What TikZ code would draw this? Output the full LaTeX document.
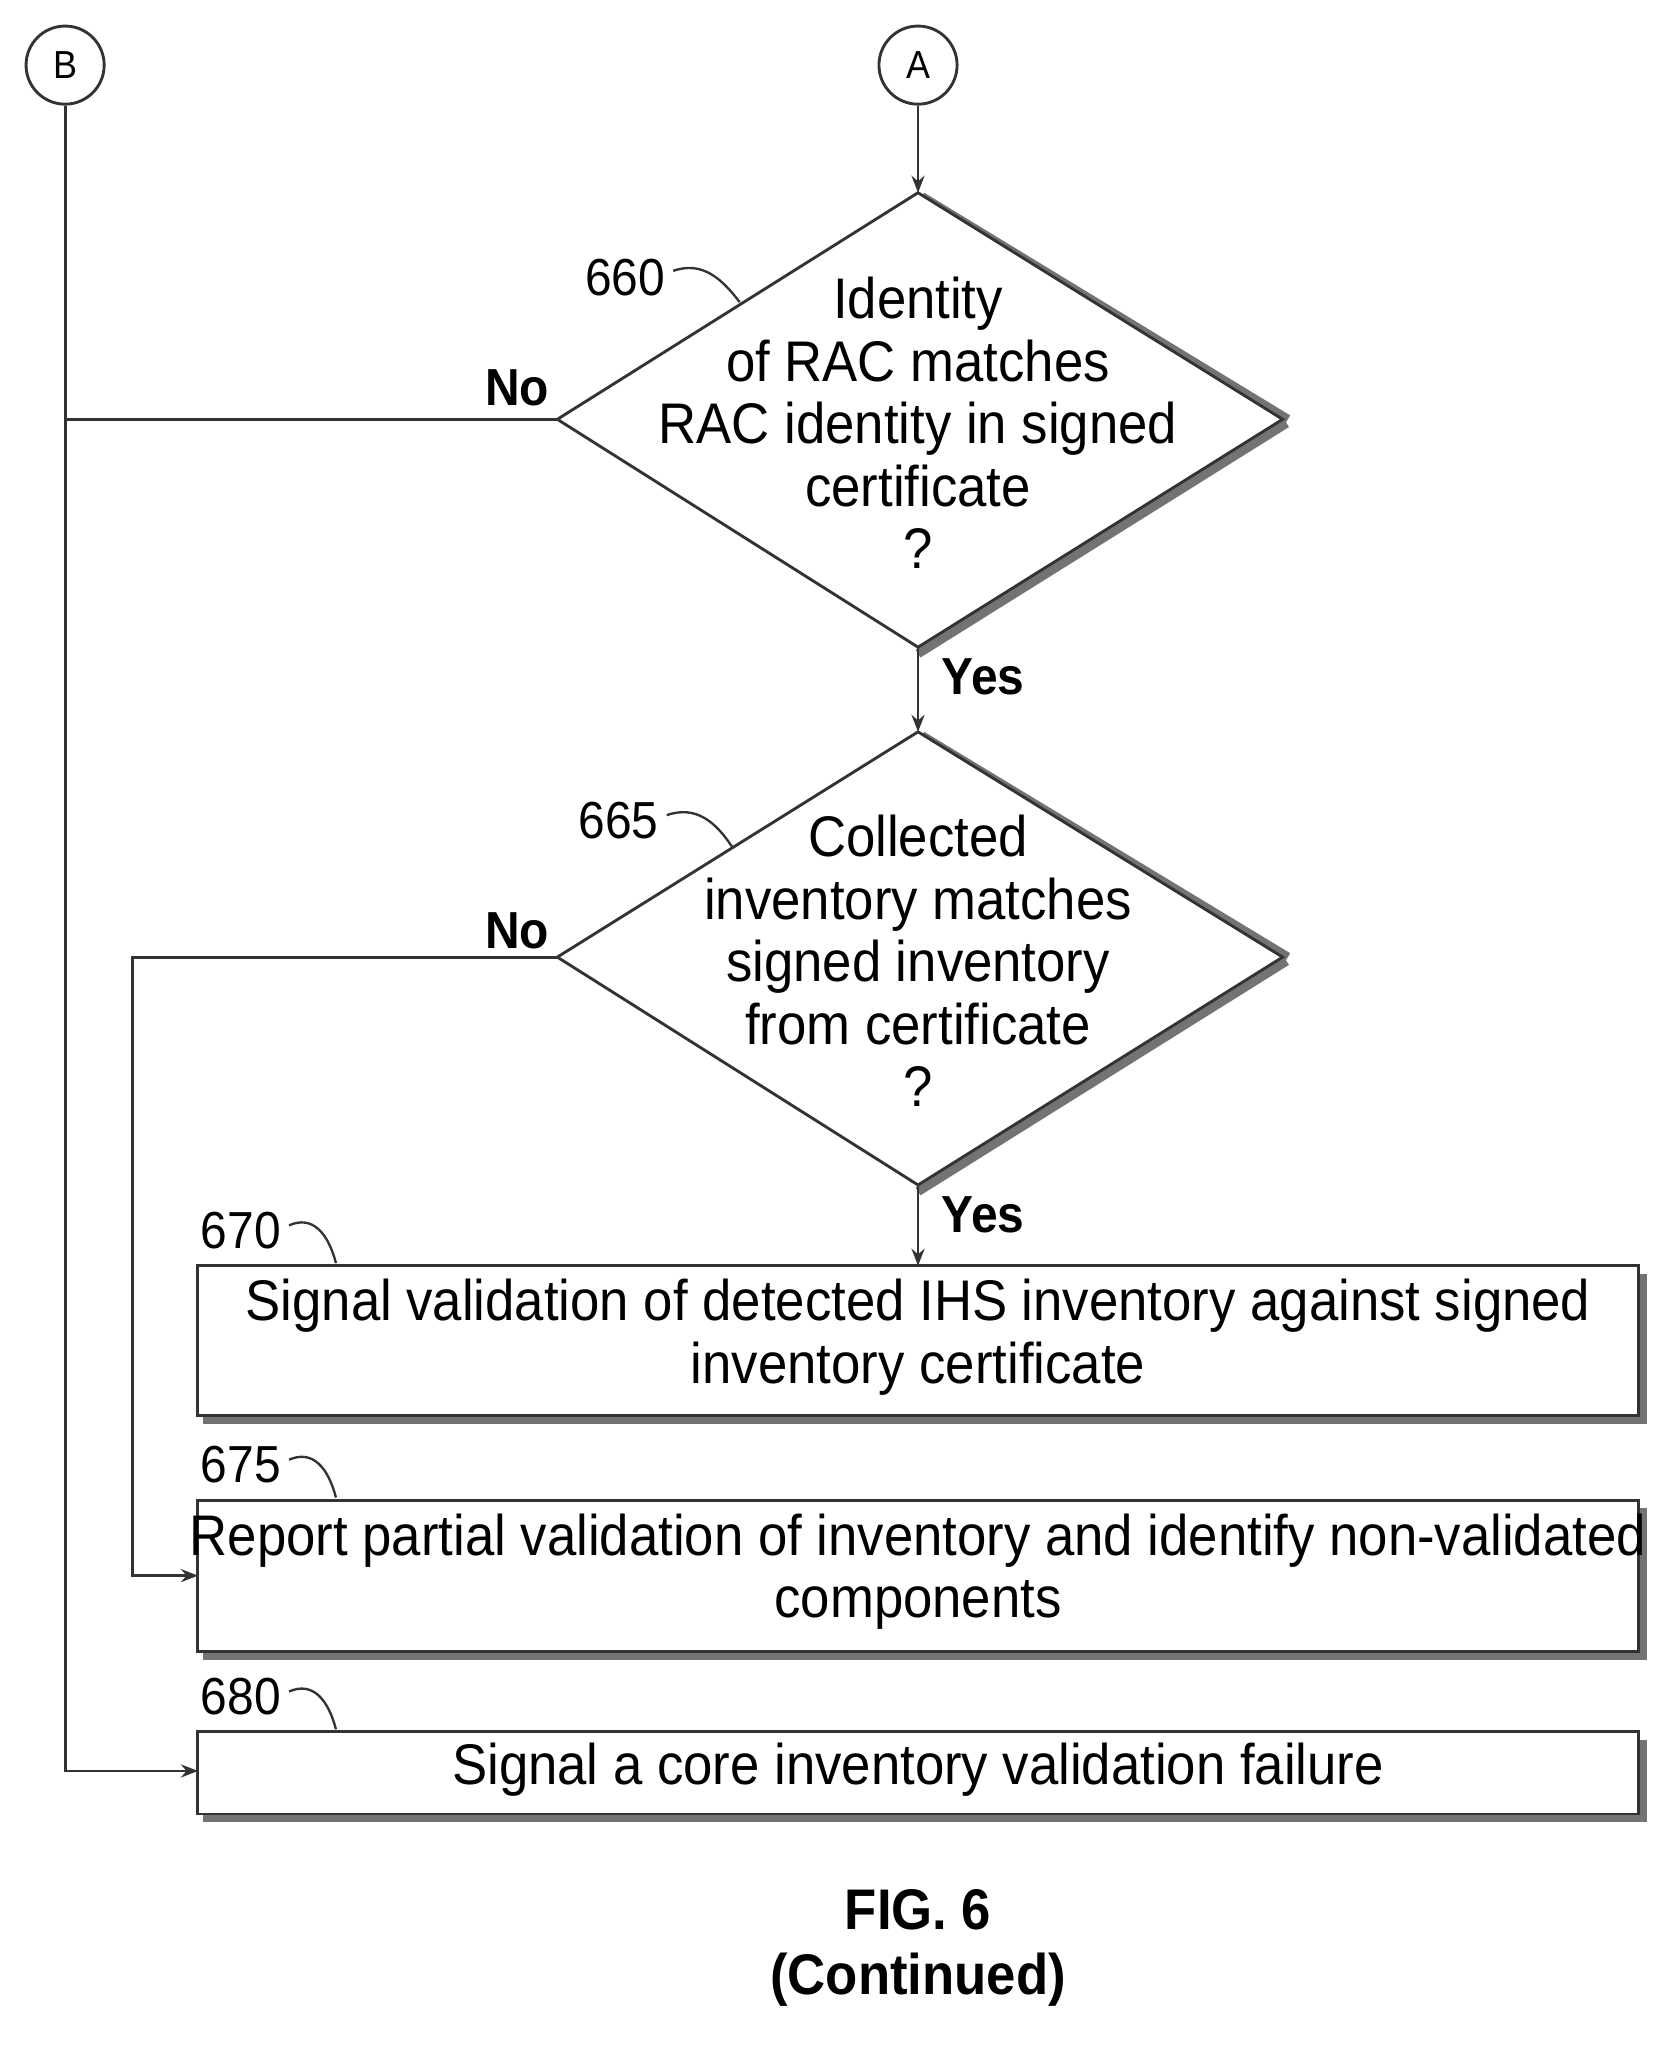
\documentclass[tikz,border=0pt]{standalone}
\usepackage{fontspec}
\setmainfont{Liberation Sans}[FakeStretch=0.92]
\usetikzlibrary{arrows.meta,calc}
\begin{document}
\begin{tikzpicture}[x=1pt,y=-1pt,
  ln/.style={line width=2.2pt,draw=black!80},
  arr/.style={ln,-{Stealth[length=13pt,width=10pt,open]}},
  txt/.style={font=\fontsize{44}{48}\selectfont,align=center,inner sep=0},
  lab/.style={font=\fontsize{40}{42}\selectfont,inner sep=0},
  yn/.style={font=\fontsize{40}{42}\selectfont\bfseries,inner sep=0},
  shad/.style={line width=7pt,draw=black!55},
  squig/.style={line width=1.8pt,draw=black!80}]
\useasboundingbox (0,0) rectangle (1280,1572);
% connectors circles
\node[circle,ln,minimum size=60pt,inner sep=0,font=\fontsize{30}{32}\selectfont] (B) at (50,50) {B};
\node[circle,ln,minimum size=60pt,inner sep=0,font=\fontsize{30}{32}\selectfont] (A) at (705,50) {A};
% diamond 660
\coordinate (d1t) at (705,148); \coordinate (d1l) at (428,322);
\coordinate (d1r) at (985,322); \coordinate (d1b) at (705,497);
\draw[shad] ($(d1r)+(3,3)$) -- ($(d1b)+(0,5)$);
\draw[shad] ($(d1t)+(3,3)$) -- ($(d1r)+(4,0)$);
\draw[ln,fill=white] (d1t) -- (d1r) -- (d1b) -- (d1l) -- cycle;
\node[txt] (t660) at (705,325) {Identity\\of RAC matches\\RAC identity in signed\\certificate\\?};
% diamond 665
\coordinate (d2t) at (705,562); \coordinate (d2l) at (428,735);
\coordinate (d2r) at (985,735); \coordinate (d2b) at (705,910);
\draw[shad] ($(d2r)+(3,3)$) -- ($(d2b)+(0,5)$);
\draw[shad] ($(d2t)+(3,3)$) -- ($(d2r)+(4,0)$);
\draw[ln,fill=white] (d2t) -- (d2r) -- (d2b) -- (d2l) -- cycle;
\node[txt] (t665) at (705,738) {Collected\\inventory matches\\signed inventory\\from certificate\\?};
% boxes
\foreach \n/\ya/\yb in {670/972/1087,675/1152/1268,680/1330/1393}{
  \draw[shad] (1261,\ya+6) -- (1261,\yb+3) -- (156,\yb+3);
  \draw[ln,fill=white] (152,\ya) rectangle (1258,\yb);
}
\node[txt] (b670) at (705,1027) {Signal validation of detected IHS inventory against signed\\inventory certificate};
\node[txt] (b675) at (705,1207) {Report partial validation of inventory and identify non-validated\\components};
\node[txt] (b680) at (705,1359) {Signal a core inventory validation failure};
\coordinate (b670t) at (705,972);
\coordinate (b675l) at (152,1210);
\coordinate (b680l) at (152,1360);
% ref labels
\node[lab] (l660) at (480,213) {660};
\draw[squig] (517,208) .. controls (540,200) and (555,215) .. (568,232);
\node[lab] (l665) at (475,630) {665};
\draw[squig] (512,626) .. controls (535,618) and (550,632) .. (562,650);
\foreach \n/\y in {670/945,675/1125,680/1303}{
  \node[lab] at (185,\y) {\n};
  \draw[squig] (222,\y-4) .. controls (240,\y-12) and (252,\y+2) .. (258,\y+25);
}
% connectors
\draw[arr] (A) -- (d1t);
\draw[arr] (d1b) -- (d2t);
\draw[arr] (d2b) -- (b670t);
\draw[arr] (B) -- (50,1360) -- (b680l);
\draw[ln] (d1l) -- (50,322);
\draw[arr] (d2l) -- (102,735) -- (102,1210) -- (b675l);
\node[yn] at (397,298) {No};
\node[yn] at (397,715) {No};
\node[yn] at (755,520) {Yes};
\node[yn] at (755,933) {Yes};
\node[font=\fontsize{44}{50}\selectfont\bfseries,align=center] (fig) at (705,1496) {FIG. 6\\(Continued)};
\end{tikzpicture}
\end{document}
